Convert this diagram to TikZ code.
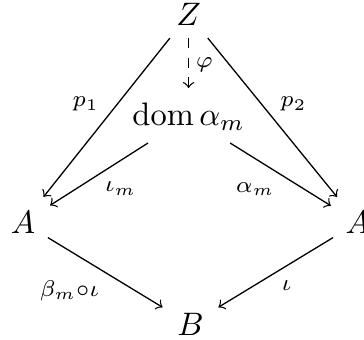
\documentclass[tikz,border=0pt]{standalone}
\usepackage{amsmath}
\begin{document}
\begin{tikzpicture}[x=1cm,y=1cm,
  arr/.style={->,shorten >=1.2pt,shorten <=0.4pt},
  lbl/.style={font=\scriptsize,inner sep=2pt}]
\useasboundingbox (0,0) rectangle (3.937,3.677);
\node (z) at (2.04,3.52) {$Z$};
\node (dom) at (2.04,2.41) {$\operatorname{dom}\alpha_m$};
\node (al) at (0.25,1.27) {$A$};
\node (ar) at (3.87,1.27) {$A$};
\node (b) at (2.06,0.17) {$B$};
\draw[arr] (z) -- (al) node[lbl,midway,above left] {$p_1$};
\draw[arr] (z) -- (ar) node[lbl,midway,above right] {$p_2$};
\draw[arr,dashed] (z) -- (dom) node[lbl,midway,right] {$\varphi$};
\draw[arr] (dom) -- (al) node[lbl,midway,below right] {$\iota_m$};
\draw[arr] (dom) -- (ar) node[lbl,midway,below left] {$\alpha_m$};
\draw[arr] (al) -- (b) node[lbl,midway,below left] {$\beta_m{\circ}\iota$};
\draw[arr] (ar) -- (b) node[lbl,midway,below right] {$\iota$};
\end{tikzpicture}
\end{document}
